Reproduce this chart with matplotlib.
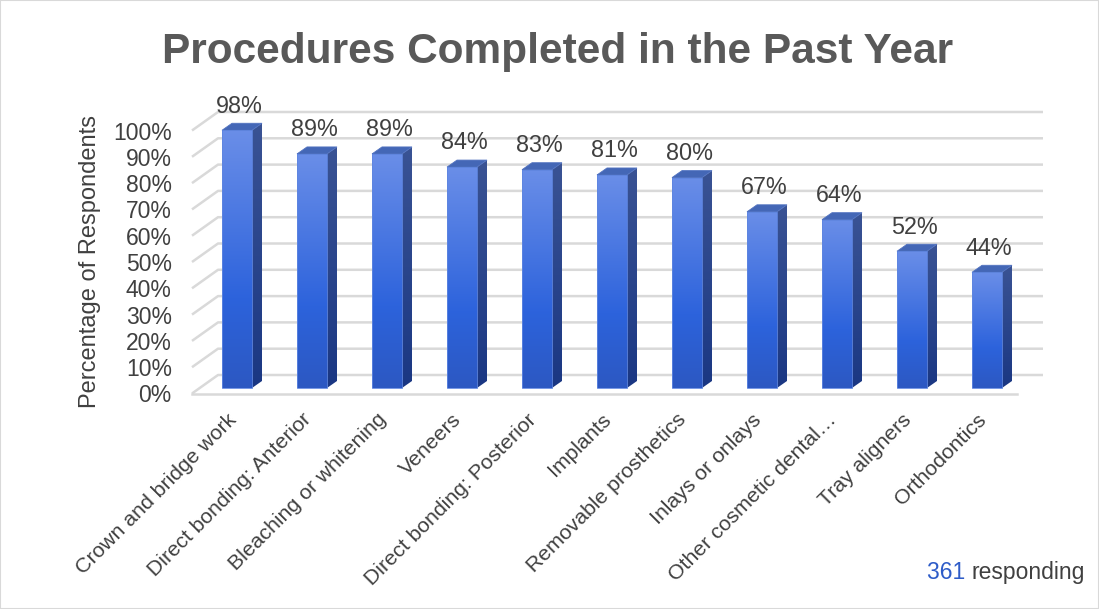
import numpy as np
import matplotlib.pyplot as plt
from matplotlib.patches import Polygon, Rectangle
from matplotlib.colors import LinearSegmentedColormap

categories = ["Crown and bridge work", "Direct bonding: Anterior", "Bleaching or whitening",
              "Veneers", "Direct bonding: Posterior", "Implants", "Removable prosthetics",
              "Inlays or onlays", "Other cosmetic dental\u2026", "Tray aligners", "Orthodontics"]
values = [98, 89, 89, 84, 83, 81, 80, 67, 64, 52, 44]
yticks = list(range(0, 101, 10))
respondents = 361

plt.rcParams['font.family'] = ['Liberation Sans', 'DejaVu Sans']
TXT = '#404040'
GRID = '#d9d9d9'

# pixel geometry: 75 px per category, 2.63 px per percent
PX_X = 75.0
PX_Y = 2.63
W, H = 1099, 609
x0_px, y0_px = 237, 388

fig = plt.figure(figsize=(W / 100, H / 100), dpi=100)
ax = fig.add_axes([0, 0, 1, 1])
ax.axis('off')

# walls / gridlines
front_dy = -5.5 / PX_Y         # front floor edge below bar base
wall_dx = 26 / PX_X            # depth of chart box
wall_dy = 18.5 / PX_Y
left = -0.6
right = len(categories) - 0.6
for v in yticks:
    yf = v + front_dy
    yb = yf + wall_dy
    ax.plot([left, left + wall_dx, right + wall_dx], [yf, yb, yb],
            color=GRID, lw=1.8, zorder=1, solid_capstyle='butt')
    ax.text(left - 0.27, yf, f"{v}%", ha='right', va='center_baseline',
            fontsize=16.5, color=TXT)
ax.plot([left, right], [front_dy, front_dy], color=GRID, lw=1.8, zorder=1)

# bars with pseudo-3D faces
bw = 0.4
dx = 10 / PX_X
dy = 7 / PX_Y
front_cmap = LinearSegmentedColormap.from_list(
    'front', [(0, '#2c58c2'), (0.35, '#2d63dc'), (1, '#6a8ee8')])
side_cmap = LinearSegmentedColormap.from_list(
    'side', [(0, '#1a3783'), (1, '#3a5394')])
grad = np.linspace(0, 1, 256).reshape(-1, 1)

for i, v in enumerate(values):
    xl, xr = i - bw / 2, i + bw / 2
    ax.imshow(grad, cmap=front_cmap, origin='lower', aspect='auto',
              extent=(xl, xr, 0, v), zorder=3)
    side = Polygon([(xr, 0), (xr + dx, dy), (xr + dx, v + dy), (xr, v)], closed=True,
                   facecolor='none', edgecolor='none', zorder=3)
    ax.add_patch(side)
    im2 = ax.imshow(grad, cmap=side_cmap, origin='lower', aspect='auto',
                    extent=(xr, xr + dx, 0, v + dy), zorder=3)
    im2.set_clip_path(side)
    ax.add_patch(Polygon([(xl, v), (xr, v), (xr + dx, v + dy), (xl + dx, v + dy)],
                         closed=True, facecolor='#4467b6', edgecolor='#5273c0',
                         lw=0.6, zorder=4))
    ax.add_patch(Rectangle((xl, 0), bw, v, facecolor='none', edgecolor='#5f86e0',
                           lw=0.6, zorder=4))
    ax.text(i + 0.03, v + 9.2, f"{v}%", ha='center', va='center',
            fontsize=16.8, color=TXT, zorder=5)
    ax.text(i - 0.05, -10.9, categories[i], rotation=45, rotation_mode='anchor',
            ha='right', va='center', fontsize=15.3, color=TXT)

ax.set_xlim(-x0_px / PX_X, (W - x0_px) / PX_X)
ax.set_ylim((y0_px - H) / PX_Y, y0_px / PX_Y)

fig.text(0.082, 0.57, "Percentage of Respondents", rotation=90, ha='center', va='center',
         fontsize=17, color=TXT)
fig.text(0.507, 1 - 63 / H, "Procedures Completed in the Past Year", ha='center',
         va='baseline', fontsize=30.5, fontweight='bold', color='#595959')
t = fig.text(0.987, 0.06, "responding", ha='right', va='center', fontsize=16.5, color=TXT)
ax.annotate(f"{respondents} ", xy=(0, 0.5), xycoords=t, ha='right', va='center',
            fontsize=16.5, color='#2e5cc8')

fig.patches.append(Rectangle((0, 0), 1, 1, transform=fig.transFigure, fill=False,
                             edgecolor=GRID, lw=1.5))

fig.savefig('out.png', dpi=100)
